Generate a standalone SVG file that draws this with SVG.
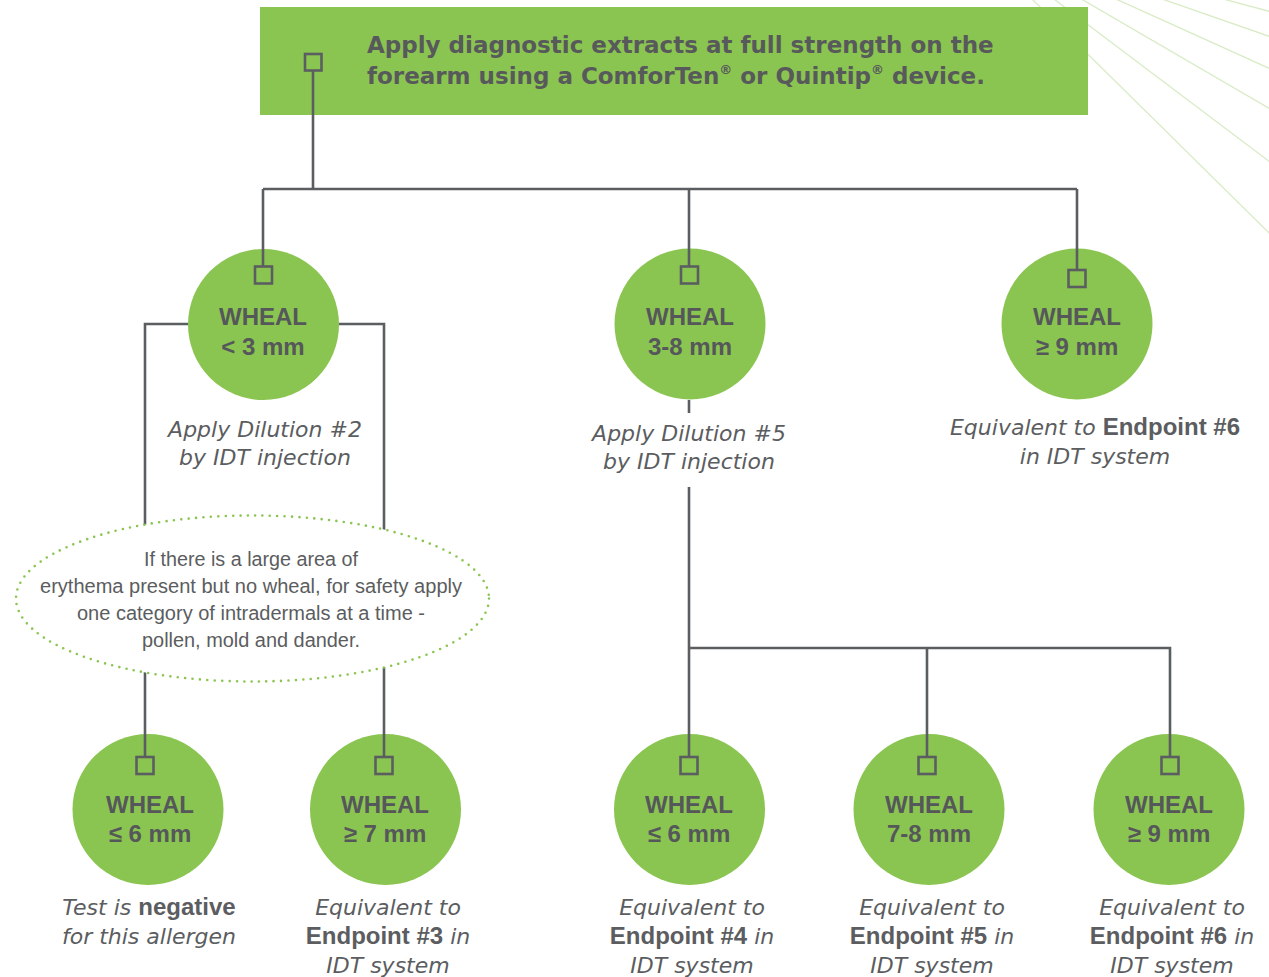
<svg xmlns="http://www.w3.org/2000/svg" width="1269" height="977" viewBox="0 0 1269 977">
<style>
.bg{fill:#ffffff}
.ray{stroke:#d8ebc5;stroke-width:1.3;fill:none}
.box{fill:#8bc551}
.circ{fill:#8bc551}
.conn{stroke:#5b5e61;stroke-width:2.6;fill:none}
.sq{stroke:#5b5e61;stroke-width:2.6;fill:none}
.head{font-family:"DejaVu Sans",sans-serif;font-weight:bold;font-size:23px;fill:#58595b}
.wl{font-family:"Liberation Sans",Arial,sans-serif;font-weight:bold;font-size:24px;fill:#55575a;text-anchor:middle}
.it{font-family:"DejaVu Sans",sans-serif;font-style:italic;font-size:22px;fill:#5b5d60;text-anchor:middle}
.b{font-family:"Liberation Sans",Arial,sans-serif;font-style:normal;font-weight:bold;font-size:24px}
.note{font-family:"Liberation Sans",Arial,sans-serif;font-size:20px;fill:#5b5d60;text-anchor:middle}
.dots{fill:#ffffff;stroke:#8bc551;stroke-width:2.6;stroke-linecap:round;stroke-dasharray:0 7.4}
</style>
<rect class="bg" x="0" y="0" width="1269" height="977"/>
<g id="rays">
<line class="ray" x1="961" y1="-71" x2="1400" y2="362"/>
<line class="ray" x1="961" y1="-71" x2="1400" y2="260"/>
<line class="ray" x1="961" y1="-71" x2="1400" y2="184.5"/>
<line class="ray" x1="961" y1="-71" x2="1400" y2="127.4"/>
<line class="ray" x1="961" y1="-71" x2="1400" y2="81.8"/>
<line class="ray" x1="961" y1="-71" x2="1400" y2="46.2"/>
</g>
<g id="top">
<rect class="box" x="260" y="7" width="828" height="108"/>
<rect class="sq" x="305" y="54" width="16.5" height="16.5"/>
<text class="head" x="367" y="53">Apply diagnostic extracts at full strength on the</text>
<text class="head" x="367" y="84">forearm using a ComforTen<tspan font-size="13" dy="-10">®</tspan><tspan dy="10"> or Quintip</tspan><tspan font-size="13" dy="-10">®</tspan><tspan dy="10">  device.</tspan></text>
</g>
<g id="w1">
<circle class="circ" cx="263.5" cy="324.5" r="75.5"/>
<rect class="sq" x="255" y="266.5" width="17" height="17"/>
<text class="wl" x="263" y="325">WHEAL</text>
<text class="wl" x="263" y="355">&lt; 3 mm</text>
<text class="it" x="265" y="437">Apply Dilution #2</text>
<text class="it" x="265" y="465">by IDT injection</text>
</g>
<g id="w2">
<circle class="circ" cx="690" cy="324" r="75.5"/>
<rect class="sq" x="681" y="266.5" width="17" height="17"/>
<text class="wl" x="690" y="325">WHEAL</text>
<text class="wl" x="690" y="355">3-8 mm</text>
<text class="it" x="689" y="441">Apply Dilution #5</text>
<text class="it" x="689" y="469">by IDT injection</text>
</g>
<g id="w3">
<circle class="circ" cx="1077" cy="324" r="75.5"/>
<rect class="sq" x="1068.5" y="270" width="17" height="17"/>
<text class="wl" x="1077" y="325">WHEAL</text>
<text class="wl" x="1077" y="355">≥ 9 mm</text>
<text class="it" x="1095" y="435">Equivalent to <tspan class="b">Endpoint #6</tspan></text>
<text class="it" x="1095" y="464">in IDT system</text>
</g>
<g id="w4">
<circle class="circ" cx="148" cy="809.5" r="75.5"/>
<rect class="sq" x="136.5" y="757" width="17" height="17"/>
<text class="wl" x="150" y="813">WHEAL</text>
<text class="wl" x="150" y="842">≤ 6 mm</text>
<text class="it" x="149" y="915">Test is <tspan class="b">negative</tspan></text>
<text class="it" x="149" y="944">for this allergen</text>
</g>
<g id="w5">
<circle class="circ" cx="385.5" cy="809.5" r="75.5"/>
<rect class="sq" x="375.5" y="757" width="17" height="17"/>
<text class="wl" x="385" y="813">WHEAL</text>
<text class="wl" x="385" y="842">≥ 7 mm</text>
<text class="it" x="388" y="915">Equivalent to</text>
<text class="it" x="388" y="944"><tspan class="b">Endpoint #3</tspan> in</text>
<text class="it" x="388" y="973">IDT system</text>
</g>
<g id="w6">
<circle class="circ" cx="689.5" cy="809.5" r="75.5"/>
<rect class="sq" x="680.5" y="757" width="17" height="17"/>
<text class="wl" x="689" y="813">WHEAL</text>
<text class="wl" x="689" y="842">≤ 6 mm</text>
<text class="it" x="692" y="915">Equivalent to</text>
<text class="it" x="692" y="944"><tspan class="b">Endpoint #4</tspan> in</text>
<text class="it" x="692" y="973">IDT system</text>
</g>
<g id="w7">
<circle class="circ" cx="929" cy="809.5" r="75.5"/>
<rect class="sq" x="918.5" y="757" width="17" height="17"/>
<text class="wl" x="929" y="813">WHEAL</text>
<text class="wl" x="929" y="842">7-8 mm</text>
<text class="it" x="932" y="915">Equivalent to</text>
<text class="it" x="932" y="944"><tspan class="b">Endpoint #5</tspan> in</text>
<text class="it" x="932" y="973">IDT system</text>
</g>
<g id="w8">
<circle class="circ" cx="1169" cy="809.5" r="75.5"/>
<rect class="sq" x="1161.5" y="757" width="17" height="17"/>
<text class="wl" x="1169" y="813">WHEAL</text>
<text class="wl" x="1169" y="842">≥ 9 mm</text>
<text class="it" x="1172" y="915">Equivalent to</text>
<text class="it" x="1172" y="944"><tspan class="b">Endpoint #6</tspan> in</text>
<text class="it" x="1172" y="973">IDT system</text>
</g>
<g id="connectors">
<path class="conn" d="M313,71 V189 M263,189 H1077 M263,189 V266 M689,189 V266 M1077,189 V269"/>
<path class="conn" d="M188,324 H145 V756 M339,324 H384 V756"/>
<path class="conn" d="M689,400 V413 M689,487 V756 M689,648 H1170 V756 M927,648 V756"/>
</g>
<g id="note">
<ellipse class="dots" cx="252.5" cy="598.5" rx="236.5" ry="83"/>
<text class="note" x="251" y="566" textLength="214" lengthAdjust="spacingAndGlyphs">If there is a large area of</text>
<text class="note" x="251" y="593" textLength="422" lengthAdjust="spacingAndGlyphs">erythema present but no wheal, for safety apply</text>
<text class="note" x="251" y="620" textLength="348" lengthAdjust="spacingAndGlyphs">one category of intradermals at a time -</text>
<text class="note" x="251" y="647" textLength="218" lengthAdjust="spacingAndGlyphs">pollen, mold and dander.</text>
</g>
</svg>
